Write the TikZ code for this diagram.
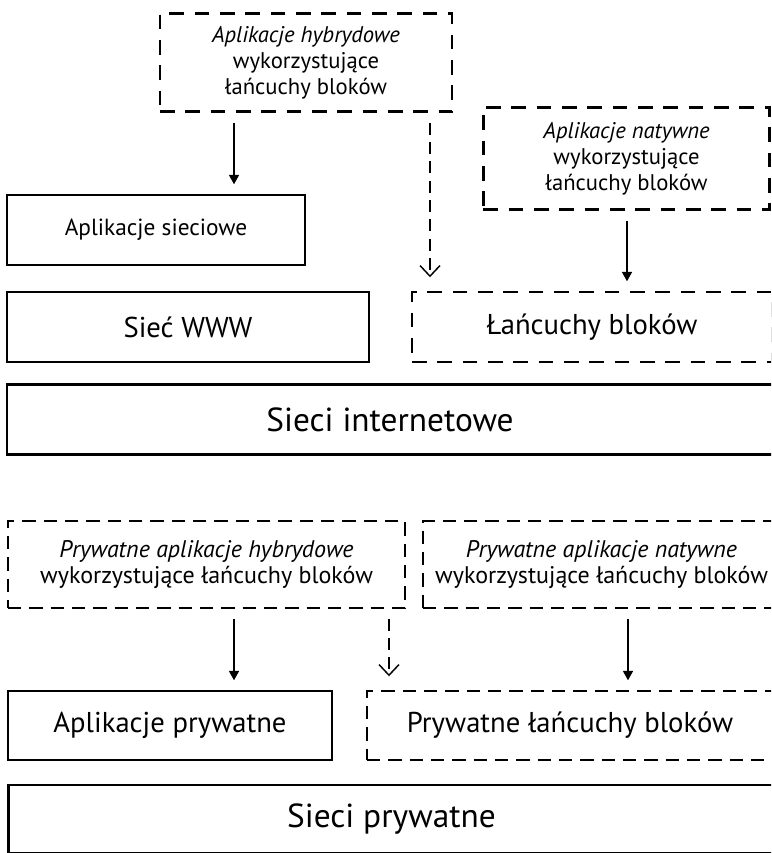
\documentclass[tikz,border=0pt]{standalone}
\usepackage{fontspec}
\setmainfont{PT Sans}
\usetikzlibrary{arrows.meta}

\begin{document}
\begin{tikzpicture}[x=0.75pt,y=-0.75pt,
  pudelko/.style={draw,line width=2.1pt,inner sep=0pt,align=center},
  kreski/.style={pudelko,dash pattern=on 11pt off 8pt},
  kreskid/.style={pudelko,dash pattern=on 10pt off 6pt},
  maly/.style={font=\fontsize{17}{19.5}\selectfont},
  malyd/.style={font=\fontsize{18}{19.5}\selectfont},
  sredni/.style={font=\fontsize{21.5}{25}\selectfont},
  duzy/.style={font=\fontsize{25}{30}\selectfont},
  strz/.style={line width=1.1pt,-{Triangle[length=7pt,width=7.5pt]},shorten <=7.5pt,shorten >=7pt},
  strzk/.style={line width=1.1pt,dash pattern=on 9pt off 5.5pt,-{Straight Barb[length=8pt,width=15pt]},shorten <=7pt,shorten >=10pt}]
				\clip (0,0) rectangle (771,853);
				\useasboundingbox (0,0) rectangle (771,853);
				\node[kreski,maly,minimum width=219pt,minimum height=74pt] (hyb) at (306,62.5) {\textit{Aplikacje hybrydowe}\\wykorzystujące\\łańcuchy bloków};
				\node[kreski,maly,minimum width=215pt,minimum height=77pt] (nat) at (626.5,158.5) {\textit{Aplikacje natywne}\\wykorzystujące\\łańcuchy bloków};
				\node[pudelko,font=\fontsize{17.5}{21}\selectfont,minimum width=223.5pt,minimum height=52.5pt] (siec) at (156,230) {Aplikacje sieciowe};
				\node[pudelko,sredni,minimum width=271.5pt,minimum height=52.5pt] (www) at (188,327) {Sieć WWW};
				\node[kreski,sredni,minimum width=270pt,minimum height=52.5pt] (lan) at (592,327) {Łańcuchy bloków};
				\node[pudelko,duzy,minimum width=574.5pt,minimum height=53pt] (inet) at (390,419.5) {Sieci internetowe};
				\node[kreskid,malyd,minimum width=297.75pt,minimum height=65.25pt] (phyb) at (206.5,564.5) {\textit{Prywatne aplikacje hybrydowe}\\wykorzystujące łańcuchy bloków};
				\node[kreskid,malyd,minimum width=267.75pt,minimum height=65.25pt] (pnat) at (601.5,564.5) {\textit{Prywatne aplikacje natywne}\\wykorzystujące łańcuchy bloków};
				\node[pudelko,sredni,minimum width=243pt,minimum height=51.75pt] (apryw) at (170,725.5) {Aplikacje prywatne};
				\node[kreskid,sredni,minimum width=304.5pt,minimum height=51.75pt] (plan) at (570,725.5) {Prywatne łańcuchy bloków};
				\node[pudelko,duzy,minimum width=575pt,minimum height=51pt] (spryw) at (391.5,819) {Sieci prywatne};
				\draw[strz] (hyb.south -| 234,0) -- (siec.north -| 234,0);
				\draw[strzk] (hyb.south -| 430,0) -- (lan.north -| 430,0);
				\draw[strz] (nat.south -| 627,0) -- (lan.north -| 627,0);
				\draw[strz] (phyb.south -| 234,0) -- (apryw.north -| 234,0);
				\draw[strzk] (phyb.south -| 389,0) -- (plan.north -| 389,0);
				\draw[strz] (pnat.south -| 628,0) -- (plan.north -| 628,0);
			\end{tikzpicture}
\end{document}
